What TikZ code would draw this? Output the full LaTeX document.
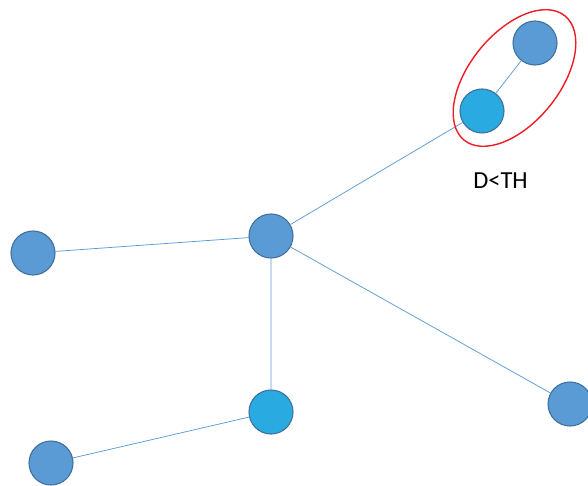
\documentclass[tikz,border=0pt]{standalone}
\usepackage{fontspec}
\setmainfont{Carlito}
\definecolor{nodeblue}{HTML}{5B9BD5}
\definecolor{nodecyan}{HTML}{29ABE2}
\definecolor{rimblue}{HTML}{41719C}
\definecolor{ringred}{HTML}{EE1C24}
\begin{document}
\begin{tikzpicture}[x=1pt,y=1pt,
  vertex/.style={circle,draw=rimblue,line width=1.1pt,fill=nodeblue,inner sep=0pt,minimum width=44pt},
  hub/.style={vertex,fill=nodecyan},
  link/.style={draw=nodeblue,line width=0.75pt}]
  \useasboundingbox (0,0) rectangle (588,485);
  % nodes
  \node[vertex] (top)    at (535,442) {};
  \node[hub]    (near)   at (482,374) {};
  \node[vertex] (centre) at (271,249) {};
  \node[vertex] (left)   at (33,232) {};
  \node[hub]    (low)    at (271,73) {};
  \node[vertex] (corner) at (51,22) {};
  \node[vertex] (right)  at (570,81) {};
  % links
  \path[link] (centre) -- (near) (near) -- (top)
    (centre) -- (left) (centre) -- (low) (centre) -- (right)
    (low) -- (corner);
  % cluster ring
  \draw[ringred,line width=1.4pt,rotate around={51:(514.5,407)}]
    (514.5,407) ellipse (80 and 45);
  \node[font=\fontsize{24.5}{28}\selectfont] (dth) at (500.5,304.5) {D<TH};
\end{tikzpicture}
\end{document}
